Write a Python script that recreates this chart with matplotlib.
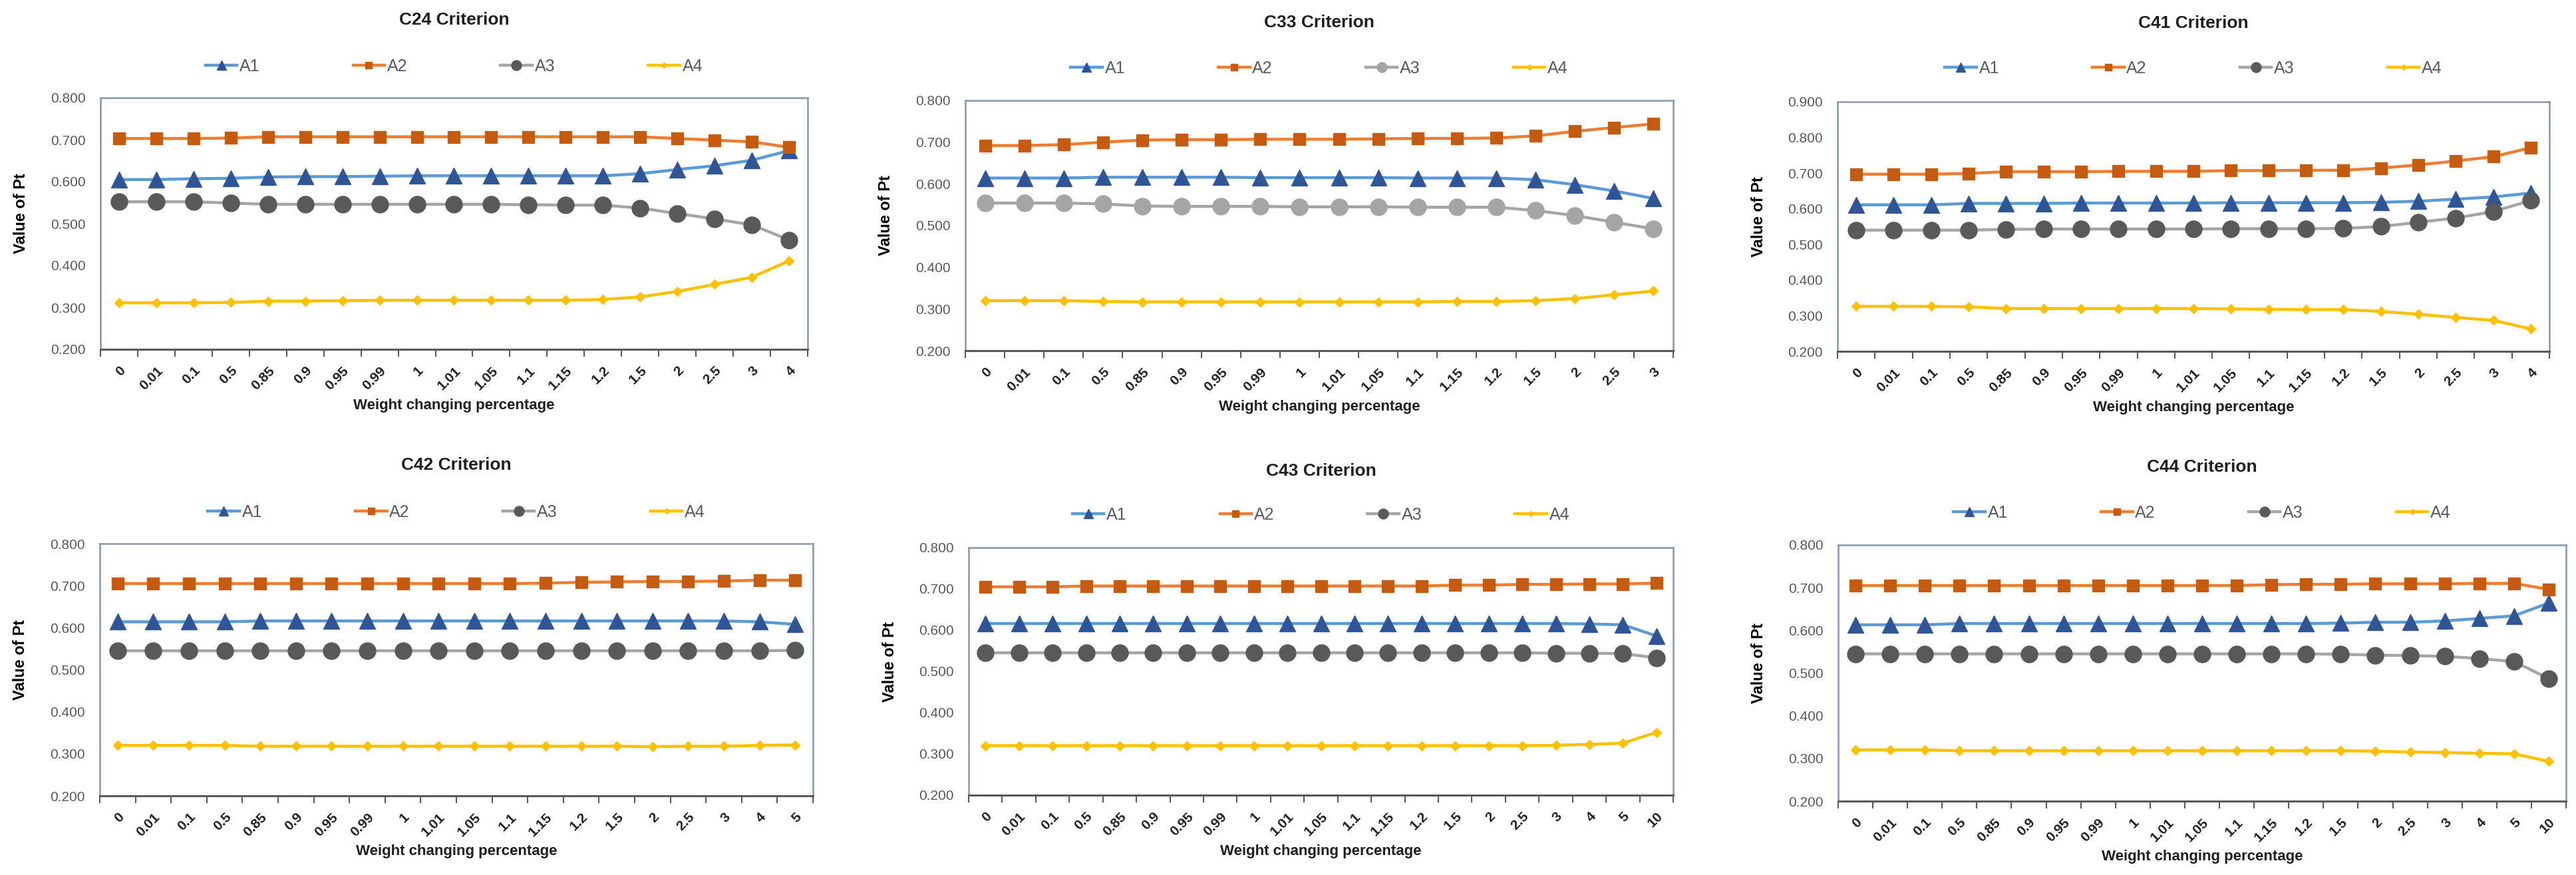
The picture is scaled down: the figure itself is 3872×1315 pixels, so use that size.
import matplotlib
matplotlib.use("Agg")
import matplotlib.pyplot as plt
from matplotlib.ticker import FixedLocator, FormatStrFormatter

plt.rcParams["font.family"] = ["Liberation Sans", "DejaVu Sans"]

W, H = 3872, 1315

# ---- data -------------------------------------------------------------
cats_c24 = ["0", "0.01", "0.1", "0.5", "0.85", "0.9", "0.95", "0.99", "1", "1.01",
            "1.05", "1.1", "1.15", "1.2", "1.5", "2", "2.5", "3", "4"]
c24_a1 = [0.605, 0.605, 0.607, 0.608, 0.611, 0.612, 0.612, 0.613, 0.614, 0.614,
          0.614, 0.614, 0.614, 0.614, 0.619, 0.629, 0.638, 0.651, 0.674]
c24_a2 = [0.703, 0.703, 0.703, 0.704, 0.707, 0.707, 0.707, 0.707, 0.707, 0.707,
          0.707, 0.707, 0.707, 0.707, 0.707, 0.703, 0.699, 0.695, 0.682]
c24_a3 = [0.552, 0.552, 0.552, 0.549, 0.546, 0.546, 0.546, 0.546, 0.546, 0.546,
          0.546, 0.545, 0.544, 0.544, 0.537, 0.524, 0.511, 0.497, 0.461]
c24_a4 = [0.311, 0.311, 0.311, 0.312, 0.315, 0.315, 0.316, 0.317, 0.317, 0.317,
          0.317, 0.317, 0.317, 0.319, 0.325, 0.338, 0.355, 0.372, 0.411]

cats_c33 = ["0", "0.01", "0.1", "0.5", "0.85", "0.9", "0.95", "0.99", "1", "1.01",
            "1.05", "1.1", "1.15", "1.2", "1.5", "2", "2.5", "3"]
c33_a1 = [0.614, 0.614, 0.614, 0.616, 0.616, 0.616, 0.616, 0.615, 0.615, 0.615,
          0.615, 0.614, 0.614, 0.614, 0.610, 0.598, 0.583, 0.565]
c33_a2 = [0.692, 0.692, 0.694, 0.700, 0.705, 0.706, 0.706, 0.707, 0.707, 0.707,
          0.708, 0.709, 0.709, 0.710, 0.715, 0.726, 0.735, 0.744]
c33_a3 = [0.554, 0.554, 0.554, 0.552, 0.547, 0.546, 0.546, 0.546, 0.545, 0.545,
          0.545, 0.544, 0.544, 0.544, 0.536, 0.524, 0.508, 0.492]
c33_a4 = [0.320, 0.320, 0.320, 0.318, 0.317, 0.317, 0.317, 0.317, 0.317, 0.317,
          0.317, 0.317, 0.318, 0.318, 0.320, 0.325, 0.334, 0.343]

cats_c41 = ["0", "0.01", "0.1", "0.5", "0.85", "0.9", "0.95", "0.99", "1", "1.01",
            "1.05", "1.1", "1.15", "1.2", "1.5", "2", "2.5", "3", "4"]
c41_a1 = [0.611, 0.611, 0.611, 0.615, 0.615, 0.615, 0.616, 0.616, 0.616, 0.616,
          0.617, 0.617, 0.617, 0.617, 0.618, 0.621, 0.627, 0.633, 0.644]
c41_a2 = [0.697, 0.697, 0.697, 0.699, 0.704, 0.704, 0.704, 0.705, 0.705, 0.705,
          0.707, 0.707, 0.708, 0.708, 0.714, 0.723, 0.734, 0.746, 0.771]
c41_a3 = [0.540, 0.540, 0.540, 0.540, 0.542, 0.543, 0.543, 0.543, 0.543, 0.543,
          0.544, 0.544, 0.544, 0.545, 0.550, 0.562, 0.574, 0.592, 0.623]
c41_a4 = [0.326, 0.326, 0.326, 0.325, 0.320, 0.320, 0.320, 0.320, 0.320, 0.320,
          0.319, 0.318, 0.317, 0.317, 0.312, 0.304, 0.295, 0.287, 0.263]

cats_c42 = ["0", "0.01", "0.1", "0.5", "0.85", "0.9", "0.95", "0.99", "1", "1.01",
            "1.05", "1.1", "1.15", "1.2", "1.5", "2", "2.5", "3", "4", "5"]
c42_a1 = [0.614, 0.614, 0.614, 0.614, 0.616, 0.616, 0.616, 0.616, 0.616, 0.616,
          0.616, 0.616, 0.616, 0.616, 0.616, 0.616, 0.616, 0.616, 0.614, 0.608]
c42_a2 = [0.705, 0.705, 0.705, 0.705, 0.705, 0.705, 0.705, 0.705, 0.705, 0.705,
          0.705, 0.705, 0.706, 0.708, 0.709, 0.710, 0.710, 0.711, 0.713, 0.713]
c42_a3 = [0.545, 0.545, 0.545, 0.545, 0.545, 0.545, 0.545, 0.545, 0.545, 0.545,
          0.545, 0.545, 0.545, 0.545, 0.545, 0.545, 0.545, 0.545, 0.545, 0.546]
c42_a4 = [0.320, 0.320, 0.320, 0.320, 0.318, 0.318, 0.318, 0.318, 0.318, 0.318,
          0.318, 0.318, 0.318, 0.318, 0.318, 0.317, 0.318, 0.318, 0.320, 0.321]

cats_c43 = ["0", "0.01", "0.1", "0.5", "0.85", "0.9", "0.95", "0.99", "1", "1.01",
            "1.05", "1.1", "1.15", "1.2", "1.5", "2", "2.5", "3", "4", "5", "10"]
c43_a1 = [0.616, 0.616, 0.616, 0.616, 0.616, 0.616, 0.616, 0.616, 0.616, 0.616,
          0.616, 0.616, 0.616, 0.616, 0.616, 0.616, 0.616, 0.616, 0.615, 0.613, 0.586]
c43_a2 = [0.705, 0.705, 0.705, 0.707, 0.707, 0.707, 0.707, 0.707, 0.707, 0.707,
          0.707, 0.707, 0.707, 0.707, 0.709, 0.709, 0.711, 0.711, 0.712, 0.712, 0.714]
c43_a3 = [0.545, 0.545, 0.545, 0.545, 0.545, 0.545, 0.545, 0.545, 0.545, 0.545,
          0.545, 0.545, 0.545, 0.545, 0.545, 0.545, 0.545, 0.544, 0.544, 0.543, 0.533]
c43_a4 = [0.320, 0.320, 0.320, 0.320, 0.320, 0.320, 0.320, 0.320, 0.320, 0.320,
          0.320, 0.320, 0.320, 0.320, 0.320, 0.320, 0.320, 0.321, 0.323, 0.326, 0.352]

cats_c44 = ["0", "0.01", "0.1", "0.5", "0.85", "0.9", "0.95", "0.99", "1", "1.01",
            "1.05", "1.1", "1.15", "1.2", "1.5", "2", "2.5", "3", "4", "5", "10"]
c44_a1 = [0.613, 0.613, 0.613, 0.616, 0.616, 0.616, 0.616, 0.616, 0.616, 0.616,
          0.616, 0.616, 0.616, 0.616, 0.617, 0.619, 0.619, 0.622, 0.628, 0.634, 0.664]
c44_a2 = [0.705, 0.705, 0.705, 0.705, 0.705, 0.705, 0.705, 0.705, 0.705, 0.705,
          0.705, 0.705, 0.707, 0.708, 0.708, 0.709, 0.709, 0.709, 0.710, 0.710, 0.696]
c44_a3 = [0.545, 0.545, 0.545, 0.545, 0.545, 0.545, 0.545, 0.545, 0.545, 0.545,
          0.545, 0.545, 0.545, 0.545, 0.544, 0.542, 0.541, 0.539, 0.534, 0.527, 0.487]
c44_a4 = [0.320, 0.320, 0.320, 0.318, 0.318, 0.318, 0.318, 0.318, 0.318, 0.318,
          0.318, 0.318, 0.318, 0.318, 0.318, 0.317, 0.315, 0.314, 0.312, 0.311, 0.293]

titles = ["C24 Criterion", "C33 Criterion", "C41 Criterion",
          "C42 Criterion", "C43 Criterion", "C44 Criterion"]
series_names = ["A1", "A2", "A3", "A4"]

panels = [
    (cats_c24, [c24_a1, c24_a2, c24_a3, c24_a4]),
    (cats_c33, [c33_a1, c33_a2, c33_a3, c33_a4]),
    (cats_c41, [c41_a1, c41_a2, c41_a3, c41_a4]),
    (cats_c42, [c42_a1, c42_a2, c42_a3, c42_a4]),
    (cats_c43, [c43_a1, c43_a2, c43_a3, c43_a4]),
    (cats_c44, [c44_a1, c44_a2, c44_a3, c44_a4]),
]
y_tops = [0.8, 0.8, 0.9, 0.8, 0.8, 0.8]

# ---- layout (pixels: left, right, top, bottom, title y, legend y) ----
boxes = [
    (151, 1214, 147, 525, 30, 100),
    (1451, 2515, 151, 527, 34, 103),
    (2762, 3832, 153, 528, 35, 103),
    (150, 1222, 817, 1196, 699, 770),
    (1456, 2515, 823, 1195, 708, 774),
    (2763, 3857, 819, 1204, 702, 771),
]

styles = [
    dict(color="#5B9BD5", marker="^", mfc="#2F5597", mec="#2F5597", ms=17),
    dict(color="#ED7D31", marker="s", mfc="#C55A11", mec="#C55A11", ms=13),
    dict(color="#A5A5A5", marker="o", mfc="#595959", mec="#595959", ms=18),
    dict(color="#FFC000", marker="D", mfc="#FFC000", mec="#FFC000", ms=7),
]

TXT = "#595959"
DARK = "#1f1f1f"
BORDER = "#8497B0"

fig = plt.figure(figsize=(W / 100, H / 100), dpi=100)

for i, (cats, vals) in enumerate(panels):
    l, r, t, b, ty, ly = boxes[i]
    ax = fig.add_axes([l / W, 1 - b / H, (r - l) / W, (b - t) / H])
    x = list(range(len(cats)))
    for k, (name, series) in enumerate(zip(series_names, vals)):
        st = dict(styles[k])
        if i == 1 and k == 2:
            st["mfc"] = "#A5A5A5"
            st["mec"] = "#A5A5A5"
        ax.plot(x, series, lw=3.2, label=name, zorder=3 + k, **st)

    ax.set_xlim(-0.5, len(cats) - 0.5)
    ax.set_ylim(0.2, y_tops[i])
    n_y = int(round((y_tops[i] - 0.2) / 0.1)) + 1
    ax.yaxis.set_major_locator(FixedLocator([0.2 + 0.1 * j for j in range(n_y)]))
    ax.yaxis.set_major_formatter(FormatStrFormatter("%.3f"))
    ax.tick_params(axis="y", length=0, pad=16, labelsize=15, labelcolor=TXT)

    ax.set_xticks(x)
    ax.set_xticklabels(cats, rotation=45, ha="right", rotation_mode="anchor",
                       fontweight="bold")
    ax.tick_params(axis="x", which="major", length=0, pad=16, labelsize=15, labelcolor=DARK)
    ax.xaxis.set_minor_locator(FixedLocator([j - 0.5 for j in range(len(cats) + 1)]))
    ax.tick_params(axis="x", which="minor", length=8, width=1.5, color="#595959", direction="out")

    for side in ["top", "left", "right"]:
        ax.spines[side].set_color(BORDER)
        ax.spines[side].set_linewidth(1.8)
    ax.spines["bottom"].set_color("#595959")
    ax.spines["bottom"].set_linewidth(2.2)

    cx = (l + r) / 2 / W
    fig.text(cx, 1 - ty / H, titles[i], ha="center", va="center",
             fontsize=19, fontweight="bold", color=DARK)
    fig.text(cx, 1 - (b + 84) / H, "Weight changing percentage", ha="center",
             va="center", fontsize=16, fontweight="bold", color=DARK)
    fig.text((l - 119) / W, 1 - (t + (b - t) * 0.46) / H, "Value of Pt",
             rotation=90, ha="center", va="center", fontsize=17,
             fontweight="bold", color="black")

    ax.legend(loc="center", bbox_to_anchor=(cx, 1 - ly / H),
              bbox_transform=fig.transFigure, ncol=4, frameon=False,
              fontsize=18, labelcolor=TXT, handlelength=1.9,
              handletextpad=0.15, columnspacing=5.6, markerscale=0.6)

fig.savefig("out.png", dpi=100, facecolor="white")
